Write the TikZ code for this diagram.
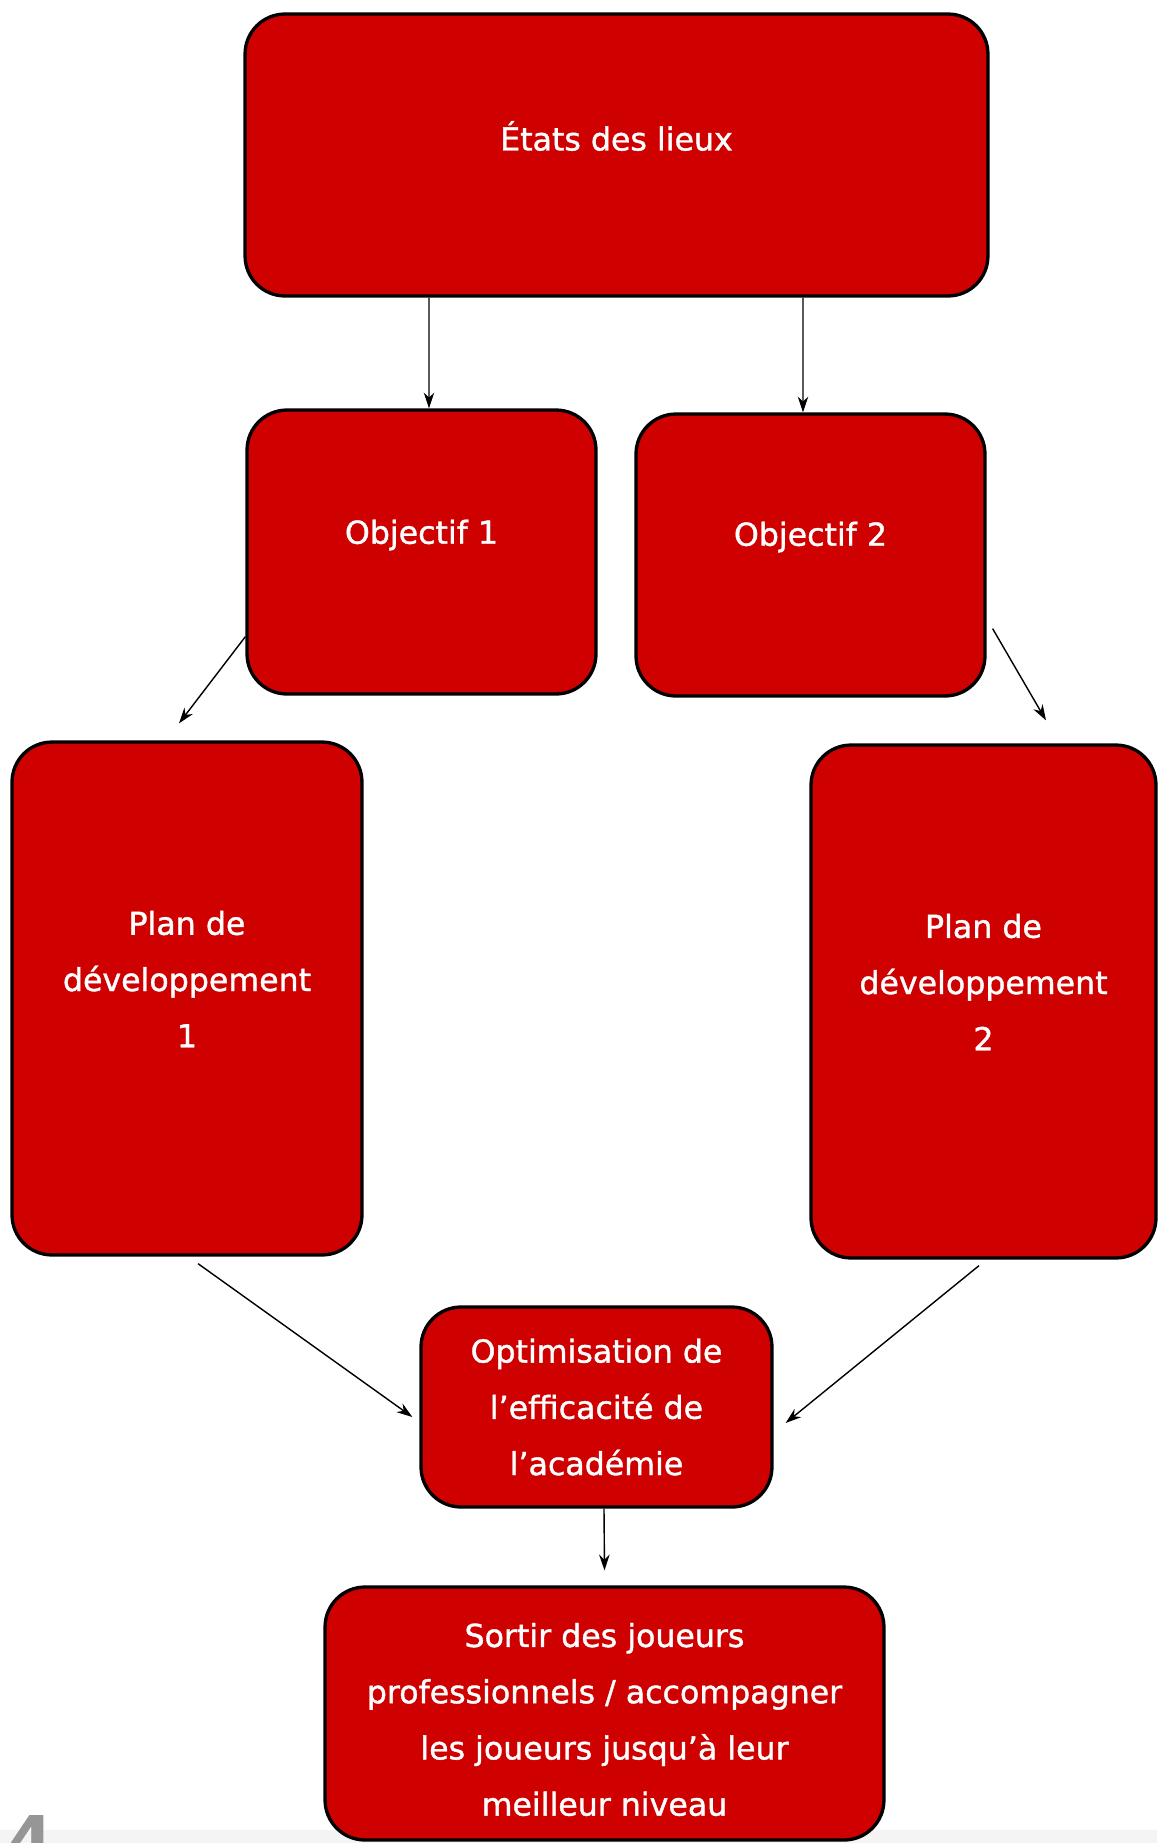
\documentclass[tikz,border=0pt]{standalone}
\usepackage{fontspec}
\setmainfont[FakeBold=1.2]{DejaVu Sans}
\usetikzlibrary{arrows.meta}
\definecolor{boxred}{RGB}{206,0,0}
\definecolor{pagegray}{RGB}{150,150,150}
\definecolor{stripgray}{RGB}{244,244,244}

\begin{document}
\begin{tikzpicture}[
  x=0.02cm,
  y=-0.02cm,
  >={Stealth[length=9pt,width=6pt]},
  every node/.style={font=\fontsize{18}{32}\selectfont},
  box/.style={draw=black, line width=1.9pt, fill=boxred, rounded corners=0.8cm, text=white, align=center},
  txt/.style={text=white, align=center},
  arr/.style={->, line width=0.8pt}
]
\useasboundingbox (0,0) rectangle (1157,1843);

% slide edge at the bottom
\fill[stripgray] (0,1830) rectangle (1157,1843);

% boxes
\node[box, minimum width=14.86cm, minimum height=5.64cm,
  label={[txt, yshift=0.38cm]center:États des lieux}] (etat) at (616.5,155) {};
\node[box, minimum width=6.98cm, minimum height=5.68cm,
  label={[txt, yshift=0.34cm]center:Objectif 1}] (obj1) at (421.5,552) {};
\node[box, minimum width=6.98cm, minimum height=5.64cm,
  label={[txt, yshift=0.36cm]center:Objectif 2}] (obj2) at (810.5,555) {};
\node[box, minimum width=7.0cm, minimum height=10.26cm,
  label={[txt, yshift=0.39cm]center:Plan de\\développement\\1}] (plan1) at (187,998.5) {};
\node[box, minimum width=6.9cm, minimum height=10.26cm,
  label={[txt, yshift=0.39cm]center:Plan de\\développement\\2}] (plan2) at (983.5,1001.5) {};
\node[box, minimum width=7.02cm, minimum height=4.0cm] (opt) at (596.5,1407)
  {Optimisation de\\l’efficacité de\\l’académie};
\node[box, minimum width=11.18cm, minimum height=5.06cm,
  label={[txt, yshift=-0.12cm]center:Sortir des joueurs\\professionnels / accompagner\\les joueurs jusqu’à leur\\meilleur niveau}] (sortir) at (604.5,1713.5) {};

% page number, cut by the page edge
\node[anchor=north west, inner sep=0pt, text=pagegray, font=\fontsize{36}{36}\selectfont\bfseries] (page) at (8,1815) {4};

% arrows
\draw[arr] ([xshift=-3.75cm]etat.south) -- ([xshift=0.15cm]obj1.north);
\draw[arr] ([xshift=3.73cm]etat.south) -- ([xshift=-0.15cm]obj2.north);
\draw[arr] ([yshift=1.18cm]obj1.south west) -- ([shift={(-0.16cm,0.34cm)}]plan1.north);
\draw[arr] ([shift={(0.12cm,1.38cm)}]obj2.south east) -- ([shift={(1.25cm,0.46cm)}]plan2.north);
\draw[arr] ([shift={(0.22cm,-0.14cm)}]plan1.south) -- ([shift={(-0.14cm,-0.2cm)}]opt.west);
\draw[arr] ([shift={(-0.09cm,-0.12cm)}]plan2.south) -- ([shift={(0.24cm,-0.32cm)}]opt.east);
\draw[arr] ([xshift=0.15cm]opt.south) -- ([yshift=0.3cm]sortir.north);
\end{tikzpicture}
\end{document}
